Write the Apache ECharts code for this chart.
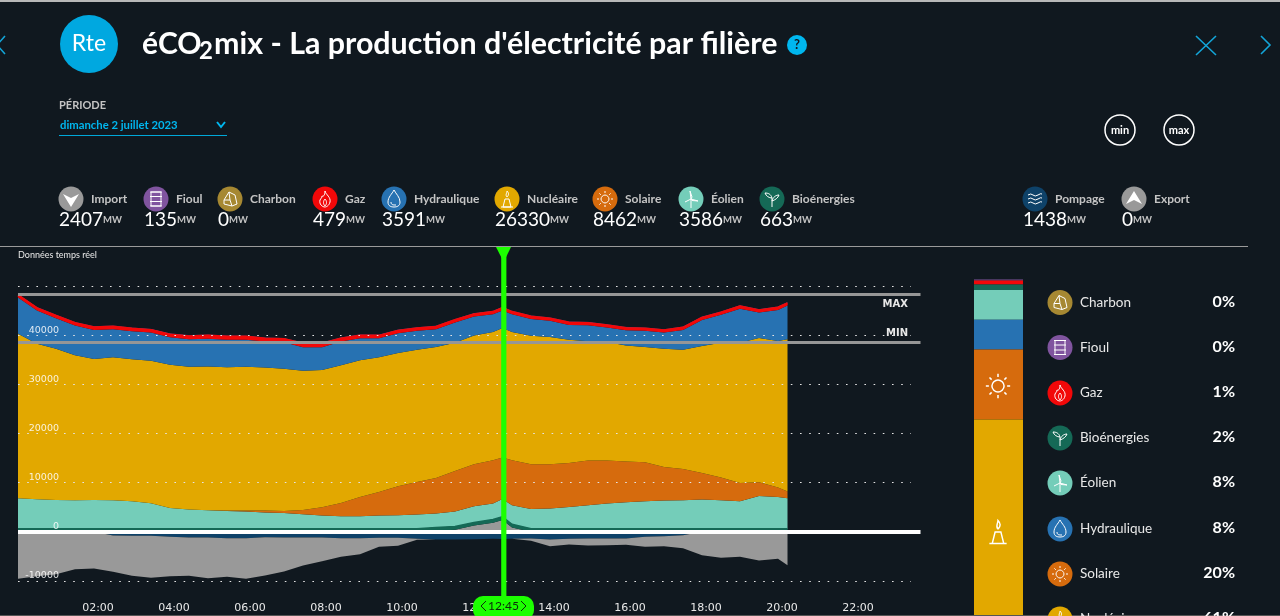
<!DOCTYPE html>
<html><head><meta charset="utf-8">
<style>html,body{margin:0;padding:0;background:#10181f;overflow:hidden}#c{width:1280px;height:616px}</style>
<script src="https://cdn.jsdelivr.net/npm/echarts@6/dist/echarts.min.js"></script>
</head><body><div id="c"></div>
<script>
// Time in hours since midnight
const hours = [0,.5,1,1.5,2,2.5,3,3.5,4,4.5,5,5.5,6,6.5,7,7.5,8,8.5,9,9.5,10,10.5,11,11.5,12,12.5,12.75,13,13.5,14,14.5,15,15.5,16,16.5,17,17.5,18,18.5,19,19.5,20,20.25];
const importPos = [0,0,0,0,0,0,0,0,0,0,0,0,0,0,0,0,0,0,0,0,0,0,230,420,1280,1840,2407,870,0,0,0,0,0,0,0,0,0,0,0,0,0,0,0];
const bio = [650,640,640,650,650,640,640,650,640,650,640,640,650,650,640,640,650,650,640,640,650,650,640,660,610,660,663,675,650,650,640,650,640,640,650,640,650,640,650,640,650,650,650];
const wind = [6180,5990,5840,5770,5830,5780,5580,5160,4220,3880,3750,3610,3480,3270,3200,2940,2660,2520,2530,2670,2720,2870,2850,3050,3310,3250,3586,3860,4000,4090,4420,4760,5110,5370,5570,5720,5770,5920,5780,5570,6650,6440,6180];
const solar = [0,0,0,0,0,0,0,0,0,0,20,70,200,400,400,874,1687,2703,3923,4797,5894,6626,7236,8252,8537,8801,8462,9146,9085,9004,8943,9085,8740,8272,7927,6829,6362,5406,4614,3720,2785,1911,1362];
const nuclear = [33475,31646,30772,29471,28658,29065,28862,29004,29146,29065,29207,29146,29268,29126,28943,28333,27906,27987,27784,27378,27093,26910,26626,26097,26219,26077,26330,26077,26158,25874,25081,24248,24105,23638,23435,24065,24268,25813,27439,28537,29329,29796,30955];
const hydro = [7337,6727,6179,6057,5935,5711,5711,5711,5569,5569,5650,5589,5447,5244,5366,4756,4634,4837,4492,3882,4024,3821,3618,4085,3821,3618,3591,3618,3415,3293,3008,3272,2947,3069,3293,3272,4024,5325,5650,6931,5183,6341,6870];
const gas = [480,490,500,510,520,530,520,520,560,620,640,650,640,620,640,740,760,620,560,520,520,510,500,490,480,480,479,480,480,470,470,460,460,460,460,450,450,450,460,460,470,470,480];
const fuel = [130,130,135,130,130,135,130,135,130,135,130,135,130,135,130,135,130,135,130,135,135,130,135,130,135,135,135,135,130,135,130,135,135,130,135,130,135,135,130,135,135,130,135];
const pumping = [0,0,0,0,0,-745,-810,-810,-1016,-1150,-1150,-1290,-1290,-1084,-1150,-1150,-1150,-1290,-1290,-1220,-1220,-1420,-1560,-1560,-1490,-1420,-1438,-1420,-1355,-1560,-1420,-1355,-1355,-1355,-1016,-880,-680,0,0,0,0,0,0];
const exportNeg = [-9553,-9011,-8604,-7588,-7450,-7385,-8133,-8540,-7995,-7793,-8267,-7856,-8263,-7791,-6912,-5693,-4812,-3791,-3249,-1829,-1625,-206,0,0,0,0,0,0,-474,-1353,-1155,-1423,-1355,-1287,-2033,-2033,-2640,-4743,-5285,-5081,-5827,-5488,-6775];
const maxLine = 48400, minLine = 38600;
const yTicksDotted = [-10000,0,10000,20000,30000,40000,50000];

const headerKeys = ['import','fioul','charbon','gaz','hydro','nucleaire','solaire','eolien','bio','pompage','export'];
const headerNames = ['Import','Fioul','Charbon','Gaz','Hydraulique','Nucléaire','Solaire','Éolien','Bioénergies','Pompage','Export'];
const headerValues = [2407,135,0,479,3591,26330,8462,3586,663,1438,0];
const sideKeys = ['charbon','fioul','gaz','bio','eolien','hydro','solaire','nucleaire'];
const sideNames = ['Charbon','Fioul','Gaz','Bioénergies','Éolien','Hydraulique','Solaire','Nucléaire'];
const sidePercent = ['0%','0%','1%','2%','8%','8%','20%','61%'];
const barKeys = ['fioul','charbon','gaz','bio','eolien','hydro','solaire','nucleaire'];
const barValues = [135,0,479,663,3586,3591,8462,26330];

const DAY0 = Date.UTC(2023,6,2), HOUR = 3600000;
const t = h => DAY0 + h*HOUR;
const colors = {import:'#999999',export:'#999999',fioul:'#80549f',charbon:'#a68832',gaz:'#f20809',hydro:'#2772b2',nucleaire:'#e2a800',solaire:'#d66b0d',eolien:'#74cdb9',bio:'#156956',pompage:'#0e4269'};
const icons = {
 import:{d:'M-8 -5 L0 -1 L8 -5 L0 8 Z',fill:true},
 export:{d:'M-8 5 L0 1 L8 5 L0 -8 Z',fill:true},
 fioul:{d:'M-5 -7 H5 V7 H-5 Z M-6 -2.5 H6 M-6 2.5 H6 M-6 -7 H6 M-6 7 H6'},
 charbon:{d:'M-6 1 L-1 -7 L5 -4 L7 5 L2 7 L-6 5 Z M-6 1 L0 1 L2 7 M0 1 L-1 -7'},
 gaz:{d:'M0 -8 C1 -4 6 -2 5 3 C4 7 1 8 0 8 C-3 8 -6 5 -5 1 C-4 -1 -3 -1 -3 -3 C-1 -2 0 -5 0 -8 Z M0 7 C-2 5 -2 2 0 0 C2 2 2 5 0 7'},
 hydro:{d:'M0 -9 C2 -5 6 -2 6 3 C6 7 3 8 0 8 C-3 8 -6 7 -6 3 C-6 -2 -2 -5 0 -9 Z M-3 3 C-3 6 -1 6 2 6'},
 nucleaire:{d:'M-4 8 L-2 0 H2 L4 8 Z M-6 8 H6 M0 -2 C-2 -4 0 -6 0 -8 C2 -6 2 -4 0 -2'},
 solaire:{d:'M0 -4 C2 -4 4 -2 4 0 C4 2 2 4 0 4 C-2 4 -4 2 -4 0 C-4 -2 -2 -4 0 -4 Z M0 -8 V-6 M0 6 V8 M-8 0 H-6 M6 0 H8 M-5.6 -5.6 L-4.2 -4.2 M4.2 4.2 L5.6 5.6 M-5.6 5.6 L-4.2 4.2 M4.2 -4.2 L5.6 -5.6'},
 eolien:{d:'M0 0 V9 M0 0 L-1 -8 L1 -2 Z M0 0 L7 2 L1 1.5 Z M0 0 L-6 3'},
 bio:{d:'M0 8 V-1 M0 -1 C-1 -5 -4 -6 -7 -6 C-6 -3 -3 -1 0 -1 M0 2 C1 -2 4 -4 7 -4 C6 -1 3 1 0 2'},
 pompage:{d:'M-7 -4 Q-4 -6 -2 -4 T3 -4 T7 -5 M-7 0 Q-4 -2 -2 0 T3 0 T7 -1 M-7 4 Q-4 2 -2 4 T3 4 T7 3'}
};
const FONT = 'Lato';
const g = [];
let pathCount = 0;
function pathEl(d,props){
 const name='rtePath'+(pathCount++);
 echarts.graphic.registerShape(name,echarts.graphic.extendPath(d,{}));
 g.push(Object.assign({type:name,silent:true,z:50},props));
}
function txt(x,y,text,size,color,weight,align,family){g.push({type:'text',x,y,z:50,silent:true,style:{text,fontSize:size,fill:color,fontWeight:weight||'normal',fontFamily:family||FONT,textAlign:align||'left',textVerticalAlign:'middle'}});}
function icon(key,cx,cy,r,bare){
 if(!bare) g.push({type:'circle',z:50,silent:true,shape:{cx,cy,r},style:{fill:colors[key]}});
 const ic=icons[key], s=(r||12)/12.5;
 pathEl(ic.d,{x:cx,y:cy,scaleX:s,scaleY:s,z:51,style:{fill:ic.fill?'#fff':'none',stroke:ic.fill?'none':'#fff',lineWidth:1}});
}
// Frame lines
g.push({type:'rect',z:50,shape:{x:0,y:0,width:1280,height:2},style:{fill:'#b8b8b8'}});
g.push({type:'rect',z:50,shape:{x:0,y:246,width:1248,height:1},style:{fill:'#9a9a9a'}});
g.push({type:'rect',z:50,shape:{x:0,y:615,width:1280,height:1},style:{fill:'#555555'}});
// Logo and title
g.push({type:'circle',z:50,shape:{cx:89,cy:44,r:29},style:{fill:'#00a8e0'}});
txt(89,44,'Rte',23,'#fff','normal','center');
txt(142,44,'éCO',30,'#fff','bold');
txt(199,51,'2',24,'#fff','bold');
txt(214,44,"mix - La production d'électricité par filière",30.4,'#fff','bold');
g.push({type:'circle',z:50,shape:{cx:797,cy:45,r:10},style:{fill:'#00b7ef'}});
txt(797,45,'?',13,'#10181f','bold','center');
// Nav arrows
const navLine={stroke:'#13a5d8',lineWidth:1.6,fill:'none'};
pathEl('M5 36 L-3 45 L5 54',{style:navLine});
pathEl('M1261 36 L1270 45 L1261 54',{style:navLine});
pathEl('M1196 36 L1216 55 M1216 36 L1196 55',{style:navLine});
// Period selector
txt(59,105,'PÉRIODE',11,'#c4c4c4','bold');
txt(60,125,'dimanche 2 juillet 2023',11.3,'#00b7ef','bold');
pathEl('M217 122 L221 127 L225 122',{style:{stroke:'#00b7ef',lineWidth:2,fill:'none'}});
g.push({type:'rect',z:50,shape:{x:59,y:135,width:168,height:1},style:{fill:'#00a8d8'}});
// min/max buttons
[['min',1120],['max',1179]].forEach(([label,x])=>{
 g.push({type:'circle',z:50,shape:{cx:x,cy:130,r:15},style:{fill:'none',stroke:'#fff',lineWidth:1.5}});
 txt(x,130,label,11,'#fff','bold','center');
});
// Header row
const headerIconX=[71,156,230,325,394,507,605,691,772,1035,1134];
headerKeys.forEach((k,i)=>{
 const x=headerIconX[i];
 icon(k,x,199,12.5);
 txt(x+20,199,headerNames[i],12,'#c4c4c4','bold');
 g.push({type:'text',x:x-12,y:220,z:50,silent:true,style:{text:'{v|'+headerValues[i]+'}{u|MW}',textVerticalAlign:'middle',rich:{v:{fontSize:19,fill:'#fff',fontFamily:FONT},u:{fontSize:9.5,fill:'#c4c4c4',fontFamily:FONT,fontWeight:'bold',padding:[0,0,1,0]}}}});
});
txt(18,255,'Données temps réel',9,'#e8e8e8');
// Chart annotations
txt(908,304,'MAX',10,'#e8e8e8','bold','right','DejaVu Sans');
txt(908,333,'MIN',10,'#e8e8e8','bold','right','DejaVu Sans');
// Side legend
const sideY=[302.5,347.5,393,438,483,529,574,619];
sideKeys.forEach((k,i)=>{
 icon(k,1060,sideY[i],12.5);
 txt(1080,sideY[i],sideNames[i],13.5,'#e8e8e8');
 txt(1235,sideY[i]-1,sidePercent[i],16,'#fff','bold','right');
});
icon('solaire',998,386,19,true);
icon('nucleaire',998,532,18,true);
// Cursor
g.push({type:'rect',z:60,shape:{x:501.2,y:250,width:5.2,height:350},style:{fill:'#1cff00'}});
pathEl('M496 247 H511 L503.7 262 Z',{z:60,style:{fill:'#1cff00'}});
g.push({type:'rect',z:61,shape:{x:473,y:596,width:61,height:24,r:10},style:{fill:'#1cff00'}});
g.push({type:'text',x:503.5,y:606,z:62,silent:true,style:{text:'12:45',fontSize:12,fill:'#0c2a0c',fontFamily:FONT,textAlign:'center',textVerticalAlign:'middle'}});
pathEl('M486 601 L481 606 L486 611 M521 601 L526 606 L521 611',{z:62,style:{stroke:'#0c2a0c',lineWidth:1,fill:'none'}});

function area(name,data,color,stack,z,line){
 return {name,type:'line',stack,data:hours.map((h,i)=>[t(h),data[i]]),showSymbol:false,symbol:'none',silent:true,animation:false,z,
  lineStyle:{width:line||0,color},itemStyle:{color},areaStyle:{color,opacity:1},xAxisIndex:0,yAxisIndex:0};
}
const dotted = yTicksDotted.map(v=>[{coord:[t(0),v]},{coord:[t(23.5),v]}]);
const series=[
 area('Import',importPos,colors.import,'pos',2),
 area('Bioénergies',bio,colors.bio,'pos',3,1.5),
 area('Éolien',wind,colors.eolien,'pos',2),
 area('Solaire',solar,colors.solaire,'pos',2),
 area('Nucléaire',nuclear,colors.nucleaire,'pos',2),
 area('Hydraulique',hydro,colors.hydro,'pos',2),
 area('Gaz',gas,colors.gaz,'pos',3,2.2),
 area('Fioul',fuel,colors.fioul,'pos',2,0.6),
 area('Pompage',pumping,colors.pompage,'neg',2),
 area('Export',exportNeg,colors.export,'neg',2),
 {type:'line',data:[],silent:true,z:6,markLine:{silent:true,symbol:'none',animation:false,label:{show:false},lineStyle:{type:[1.6,7.6],width:1.2,color:'#e4e4e4'},data:dotted}},
 {type:'line',data:[],silent:true,z:7,markLine:{silent:true,symbol:'none',animation:false,label:{show:false},lineStyle:{type:'solid',width:3,color:'#969696'},data:[{yAxis:maxLine},{yAxis:minLine}]}},
 {type:'line',data:[],silent:true,z:8,markLine:{silent:true,symbol:'none',animation:false,label:{show:false},lineStyle:{type:'solid',width:4,color:'#ffffff'},data:[{yAxis:0}]}}
];
barKeys.forEach((k,i)=>series.push({type:'bar',stack:'mix',xAxisIndex:1,yAxisIndex:1,data:[barValues[i]],barWidth:49,silent:true,animation:false,itemStyle:{color:colors[k]}}));

const chart=echarts.init(document.getElementById('c'),null,{renderer:'canvas',width:1280,height:616});
chart.setOption({
 backgroundColor:'#10181f',animation:false,useUTC:true,
 grid:[{left:18,top:286,width:902.5,height:295},{left:974,top:279.5,width:49,height:357.6,outerBoundsMode:'none'}],
 xAxis:[
  {type:'time',gridIndex:0,min:t(0),max:t(23.75),minInterval:2*HOUR,maxInterval:2*HOUR,splitLine:{show:false},axisLine:{show:false},axisTick:{show:false},
   axisLabel:{margin:22,color:'#e8e8e8',fontSize:11,fontFamily:'DejaVu Sans',padding:[0,0,0,8],showMinLabel:false,showMaxLabel:false,hideOverlap:false,
    formatter:v=>{const d=new Date(v),h=d.getUTCHours();return (h===0||d.getUTCMinutes()||h%2)?'':String(h).padStart(2,'0')+':00';}}},
  {type:'category',gridIndex:1,data:['mix'],show:false}
 ],
 yAxis:[
  {type:'value',gridIndex:0,min:-10000,max:50000,interval:10000,z:20,splitLine:{show:false},axisLine:{show:false},axisTick:{show:false},
   axisLabel:{inside:true,margin:41,align:'right',verticalAlign:'bottom',color:'rgba(255,255,255,.85)',fontSize:9.5,fontFamily:'DejaVu Sans',formatter:v=>v===50000?'':String(v)}},
  {type:'value',gridIndex:1,min:0,max:barValues.reduce((a,b)=>a+b,0),inverse:true,show:false}
 ],
 series,
 graphic:{elements:g}
});
</script></body></html>
